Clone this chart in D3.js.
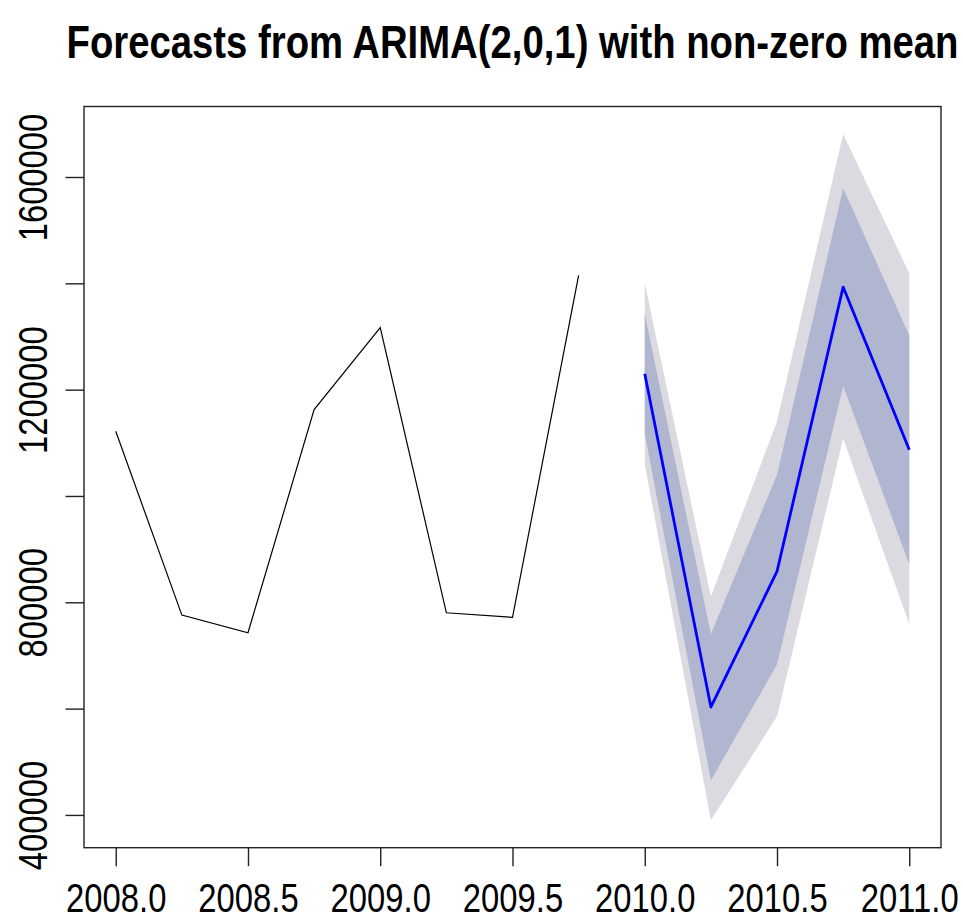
<!DOCTYPE html>
<html>
<head>
<meta charset="utf-8">
<script src="https://cdn.jsdelivr.net/npm/d3@7"></script>
<style>
  html, body { margin: 0; padding: 0; background: #ffffff; }
  svg { display: block; }
  text { font-family: "Liberation Sans", Arial, sans-serif; fill: #000; }
</style>
</head>
<body>
<svg id="chart" width="963" height="923"></svg>
<script>
// Quarterly observations, 2008 Q1 .. 2009 Q4
const histTime = [2008.0, 2008.25, 2008.5, 2008.75, 2009.0, 2009.25, 2009.5, 2009.75];
const histValue = [1121800, 775900, 742700, 1162600, 1316700, 780300, 771600, 1415000];

// Forecast horizon, 2010 Q1 .. 2011 Q1
const fcTime = [2010.0, 2010.25, 2010.5, 2010.75, 2011.0];
const fcMean = [1230000, 603000, 858000, 1393000, 1087000];
const lo80 = [1117000, 465000, 683000, 1207000, 872000];
const hi80 = [1343000, 740000, 1040000, 1579000, 1302000];
const lo95 = [1060000, 390000, 585000, 1108000, 759000];
const hi95 = [1400000, 811000, 1140000, 1681000, 1419000];

// Axis ticks and labels
const xTicks = [2008.0, 2008.5, 2009.0, 2009.5, 2010.0, 2010.5, 2011.0];
const xTickLabels = ["2008.0", "2008.5", "2009.0", "2009.5", "2010.0", "2010.5", "2011.0"];
const yTicks = [400000, 600000, 800000, 1000000, 1200000, 1400000, 1600000];
const yTickLabels = ["400000", "", "800000", "", "1200000", "", "1600000"];

const titleText = "Forecasts from ARIMA(2,0,1) with non-zero mean";

// Plot region
const box = { left: 84, right: 941, top: 106.5, bottom: 847.7 };
// Narrow lettering: regular sans compressed horizontally
const squeeze = 0.82;

const svg = d3.select("#chart");

// Ranges padded by 4% on each side, as base graphics does
const xExt = d3.extent(histTime.concat(fcTime));
const xPad = (xExt[1] - xExt[0]) * 0.04;
const yExt = d3.extent(histValue.concat(fcMean, lo80, hi80, lo95, hi95));
const yPad = (yExt[1] - yExt[0]) * 0.04;

const x = d3.scaleLinear().domain([xExt[0] - xPad, xExt[1] + xPad]).range([box.left, box.right]);
const y = d3.scaleLinear().domain([yExt[0] - yPad, yExt[1] + yPad]).range([box.bottom, box.top]);

const fc = fcTime.map((t, i) => ({ t, mean: fcMean[i], lo80: lo80[i], hi80: hi80[i], lo95: lo95[i], hi95: hi95[i] }));
const hist = histTime.map((t, i) => ({ t, v: histValue[i] }));

const plot = svg.append("g");

// 95% interval band
plot.append("path")
  .datum(fc)
  .attr("fill", "#DADAE0")
  .attr("d", d3.area().x(d => x(d.t)).y0(d => y(d.lo95)).y1(d => y(d.hi95)));

// 80% interval band
plot.append("path")
  .datum(fc)
  .attr("fill", "#B0B5D0")
  .attr("d", d3.area().x(d => x(d.t)).y0(d => y(d.lo80)).y1(d => y(d.hi80)));

// Observed series
plot.append("path")
  .datum(hist)
  .attr("fill", "none")
  .attr("stroke", "#000")
  .attr("stroke-width", 1.2)
  .attr("d", d3.line().x(d => x(d.t)).y(d => y(d.v)));

// Point forecasts
plot.append("path")
  .datum(fc)
  .attr("fill", "none")
  .attr("stroke", "#0000FF")
  .attr("stroke-width", 2.8)
  .attr("stroke-linejoin", "round")
  .attr("d", d3.line().x(d => x(d.t)).y(d => y(d.mean)));

// Frame
svg.append("rect")
  .attr("x", box.left).attr("y", box.top)
  .attr("width", box.right - box.left).attr("height", box.bottom - box.top)
  .attr("fill", "none").attr("stroke", "#222").attr("stroke-width", 1.4);

// Bottom axis
const xAxis = svg.append("g")
  .attr("transform", `translate(0,${box.bottom})`)
  .call(d3.axisBottom(x).tickValues(xTicks)
    .tickFormat((d, i) => xTickLabels[i]).tickSize(18.5).tickSizeOuter(0).tickPadding(0));
xAxis.select(".domain").remove();
xAxis.selectAll(".tick line").attr("stroke", "#222").attr("stroke-width", 1.4);
xAxis.selectAll(".tick text")
  .attr("x", 0).attr("y", 0).attr("dy", 0)
  .attr("transform", `translate(0,64) scale(${squeeze},1)`)
  .attr("text-anchor", "middle")
  .style("font-size", "40px")
  .attr("fill", "#000");

// Left axis
const yAxis = svg.append("g")
  .attr("transform", `translate(${box.left},0)`)
  .call(d3.axisLeft(y).tickValues(yTicks)
    .tickFormat((d, i) => yTickLabels[i]).tickSize(18.5).tickSizeOuter(0).tickPadding(0));
yAxis.select(".domain").remove();
yAxis.selectAll(".tick line").attr("stroke", "#222").attr("stroke-width", 1.4);
yAxis.selectAll(".tick text")
  .attr("x", 0).attr("y", 0).attr("dy", 0)
  .attr("transform", `translate(-37,0) rotate(-90) scale(${squeeze},1)`)
  .attr("text-anchor", "middle")
  .style("font-size", "40px")
  .attr("fill", "#000");

// Title
svg.append("text")
  .attr("transform", `translate(${(box.left + box.right) / 2},58) scale(${squeeze},1)`)
  .attr("text-anchor", "middle")
  .style("font-size", "46.7px")
  .style("font-weight", "bold")
  .text(titleText);
</script>
</body>
</html>
